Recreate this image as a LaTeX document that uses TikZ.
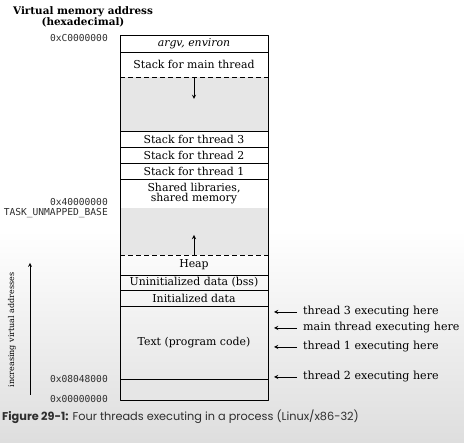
\documentclass[tikz,border=0pt]{standalone}
\usepackage{fontspec}
\setmainfont{DejaVu Serif}
\newfontfamily\addrfont{DejaVu Sans Mono}
\newfontfamily\capfont{Poppins}
\usetikzlibrary{positioning}
\definecolor{gapgray}{HTML}{E6E6E6}
\definecolor{inkgray}{HTML}{2E2E2E}
\tikzset{
  seg/.style={minimum width=148pt,inner sep=0pt,outer sep=0pt,anchor=north,font=\fontsize{10.9}{12}\selectfont},
  gap/.style={seg,fill=gapgray},
  addr/.style={anchor=east,inner sep=0pt,text=inkgray,font=\addrfont\fontsize{9.6}{11}\selectfont},
  note/.style={anchor=west,inner sep=0pt,font=\fontsize{11.1}{12}\selectfont},
}
\begin{document}
\begin{tikzpicture}[x=1pt,y=-1pt,line join=round,>=stealth]
\def\xl{120}\def\xr{268}\def\xc{194}
\useasboundingbox (0,0) rectangle (464,443);
\shade[top color=white,bottom color=black!13] (0,230) rectangle (464,443);
% segments of the address space, top to bottom
\node[seg,minimum height=17pt] (argv) at (\xc,35) {\textit{argv, environ}};
\node[seg,minimum height=25pt,below=0pt of argv] (mainstk) {Stack for main thread};
\node[gap,minimum height=54pt,below=0pt of mainstk] (gapstk) {};
\node[seg,minimum height=16pt,below=0pt of gapstk] (thr3) {Stack for thread 3};
\node[seg,minimum height=16pt,below=0pt of thr3] (thr2) {Stack for thread 2};
\node[seg,minimum height=16pt,below=0pt of thr2] (thr1) {Stack for thread 1};
\node[seg,minimum height=29pt,align=center,below=0pt of thr1] (shlib) {Shared libraries,\\[-2pt]shared memory};
\node[gap,minimum height=47pt,below=0pt of shlib] (gapheap) {};
\node[seg,minimum height=20pt,below=0pt of gapheap] (heap) {Heap};
\node[seg,minimum height=15pt,below=0pt of heap] (bss) {Uninitialized data (bss)};
\node[seg,minimum height=16pt,below=0pt of bss] (idata) {Initialized data};
\node[seg,minimum height=73pt,below=0pt of idata] (text) {Text (program code)};
\node[gap,minimum height=21pt,below=0pt of text] (low) {};
% frame and separators
\begin{scope}[line width=0.9pt]
\draw (argv.north west) rectangle (low.south east);
\foreach \s in {argv,gapstk,thr3,thr2,thr1,heap,bss,idata,text}
  \draw (\s.south west) -- (\s.south east);
\draw[dash pattern=on 5pt off 3pt] (mainstk.south west) -- (mainstk.south east)
  (gapheap.south west) -- (gapheap.south east);
\draw[->] (gapstk.north) -- ++(0,22);
\draw[->] (gapheap.south) -- ++(0,-20);
\end{scope}
% addresses
\node[font=\bfseries\fontsize{10.4}{12}\selectfont,align=center] (title) at (83,17) {Virtual memory address\\[-1pt](hexadecimal)};
\node[addr] (aC) at (108,38) {0xC0000000};
\node[addr] (a4) at (108,202) {0x40000000};
\node[addr] (tub) at (108,213) {TASK\_UNMAPPED\_BASE};
\node[addr] (a08) at (108,379) {0x08048000};
\node[addr] (a00) at (108,399) {0x00000000};
\coordinate (vlo) at (30,395);
\coordinate (vhi) at (30,263);
\draw[->,line width=0.7pt] (vlo) -- (vhi);
\node[rotate=90,font=\fontsize{8}{10}\selectfont] (incr) at (12,330) {increasing virtual addresses};
% where the threads execute
\node[note] (lbl3) at (303,312) {thread 3 executing here};
\node[note] (lblm) at (303,328) {main thread executing here};
\node[note] (lbl1) at (303,347) {thread 1 executing here};
\node[note] (lbl2) at (303,377) {thread 2 executing here};
\foreach \l in {lbl3,lblm,lbl1,lbl2}
  \draw[->,line width=0.9pt] ([xshift=-6pt]\l.west) -- ([xshift=-29pt]\l.west);
\node[anchor=west,inner sep=0pt,text=inkgray,font=\capfont\fontsize{11.3}{13}\selectfont] (cap) at (2,417)
  {\textbf{Figure 29-1:} Four threads executing in a process (Linux/x86-32)};
\end{tikzpicture}
\end{document}
